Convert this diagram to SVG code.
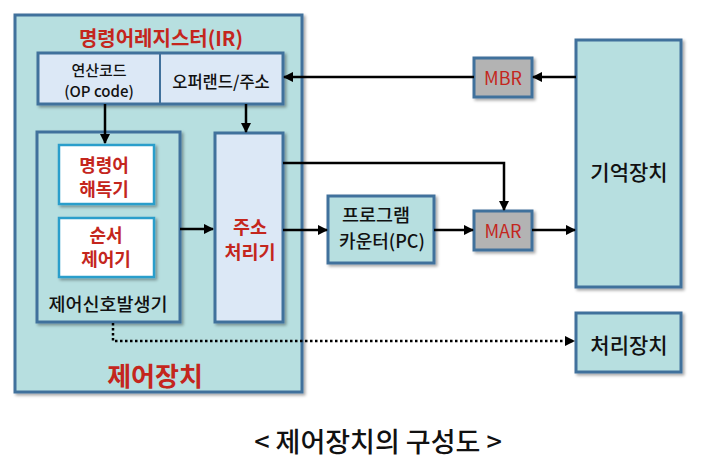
<svg xmlns="http://www.w3.org/2000/svg" width="718" height="471" viewBox="0 0 718 471">
<style>
text{font-family:"Noto Sans CJK KR","Noto Sans",sans-serif;text-anchor:middle}
.box{stroke:#41719c;stroke-width:3}
.teal{fill:#b7dfe0}
.pale{fill:#dce8f6}
.gray{fill:#b3b3b3}
.white{fill:#ffffff;stroke:#2c9ecb;stroke-width:2.5}
.red{fill:#c4261d;font-weight:700}
.blk{fill:#111111;font-weight:500}
.ln{stroke:#000;stroke-width:2.5;fill:none}
.dot{stroke:#000;stroke-width:2.5;fill:none;stroke-dasharray:2.5 2.5}
</style>
<defs>
<filter id="sh" x="-10%" y="-10%" width="130%" height="130%">
<feDropShadow dx="2" dy="2" stdDeviation="1.5" flood-color="#000" flood-opacity="0.35"/>
</filter>
<marker id="ah" viewBox="0 0 10 10" refX="9" refY="5" markerWidth="4.2" markerHeight="4.2" orient="auto" markerUnits="strokeWidth">
<path d="M0,0 L10,5 L0,10 z" fill="#000"/>
</marker>
</defs>
<rect width="718" height="471" fill="#ffffff"/>

<g id="control-unit">
<rect class="box teal" x="15" y="15" width="287" height="377" filter="url(#sh)"/>
<text class="red" x="155" y="386" font-size="26">제어장치</text>
<text class="red" x="161" y="46" font-size="20">명령어레지스터(IR)</text>
</g>

<g id="ir">
<rect class="box pale" x="38" y="53" width="245" height="51" filter="url(#sh)"/>
<line x1="160" y1="53" x2="160" y2="104" stroke="#41719c" stroke-width="2"/>
<text class="blk" x="99" y="76" font-size="15">연산코드</text>
<text class="blk" x="99" y="97" font-size="15">(OP code)</text>
<text class="blk" x="221" y="88" font-size="16.5">오퍼랜드/주소</text>
</g>

<g id="signal-gen">
<rect class="box teal" x="37" y="132" width="143" height="190" filter="url(#sh)"/>
<text class="blk" x="108" y="311" font-size="18.5">제어신호발생기</text>
</g>

<g id="decoder">
<rect class="white" x="59" y="145" width="95" height="59" filter="url(#sh)"/>
<text class="red" x="104" y="172" font-size="18">명령어</text>
<text class="red" x="104" y="196" font-size="18">해독기</text>
</g>

<g id="sequencer">
<rect class="white" x="59" y="218" width="95" height="59" filter="url(#sh)"/>
<text class="red" x="106" y="242" font-size="18">순서</text>
<text class="red" x="106" y="266" font-size="18">제어기</text>
</g>

<g id="addr-proc">
<rect class="box pale" x="215" y="133" width="68" height="189" filter="url(#sh)"/>
<text class="red" x="250" y="234" font-size="18.5">주소</text>
<text class="red" x="250" y="259" font-size="18.5">처리기</text>
</g>

<g id="pc">
<rect class="box teal" x="328" y="196" width="106" height="67" filter="url(#sh)"/>
<text class="blk" x="376" y="222" font-size="18.5">프로그램</text>
<text class="blk" x="382" y="248" font-size="18">카운터(PC)</text>
</g>

<g id="mbr">
<rect class="box gray" x="474" y="58" width="58" height="39" filter="url(#sh)"/>
<text fill="#c4261d" x="503" y="85" font-size="18" font-family="Noto Sans">MBR</text>
</g>

<g id="mar">
<rect class="box gray" x="474" y="211" width="58" height="39" filter="url(#sh)"/>
<text fill="#c4261d" x="503" y="238" font-size="18" font-family="Noto Sans">MAR</text>
</g>

<g id="memory">
<rect class="box teal" x="576" y="40" width="105" height="247" filter="url(#sh)"/>
<text class="blk" x="629" y="180" font-size="21">기억장치</text>
</g>

<g id="cpu">
<rect class="box teal" x="576" y="313" width="105" height="59" filter="url(#sh)"/>
<text class="blk" x="629" y="353" font-size="21">처리장치</text>
</g>

<g id="connectors">
<line class="ln" x1="105" y1="104" x2="105" y2="143" marker-end="url(#ah)"/>
<line class="ln" x1="246" y1="104" x2="246" y2="132" marker-end="url(#ah)"/>
<line class="ln" x1="180" y1="229" x2="213" y2="229" marker-end="url(#ah)"/>
<line class="ln" x1="576" y1="77" x2="533" y2="77" marker-end="url(#ah)"/>
<line class="ln" x1="474" y1="77" x2="284" y2="77" marker-end="url(#ah)"/>
<polyline class="ln" points="283,163 504,163 504,210" marker-end="url(#ah)"/>
<line class="ln" x1="283" y1="230" x2="327" y2="230" marker-end="url(#ah)"/>
<line class="ln" x1="434" y1="230" x2="473" y2="230" marker-end="url(#ah)"/>
<line class="ln" x1="532" y1="230" x2="575" y2="230" marker-end="url(#ah)"/>
<polyline class="dot" points="113,323 113,341 574,341" marker-end="url(#ah)"/>
</g>

<text class="blk" x="378" y="452" font-size="27">&lt; 제어장치의 구성도 &gt;</text>
</svg>
